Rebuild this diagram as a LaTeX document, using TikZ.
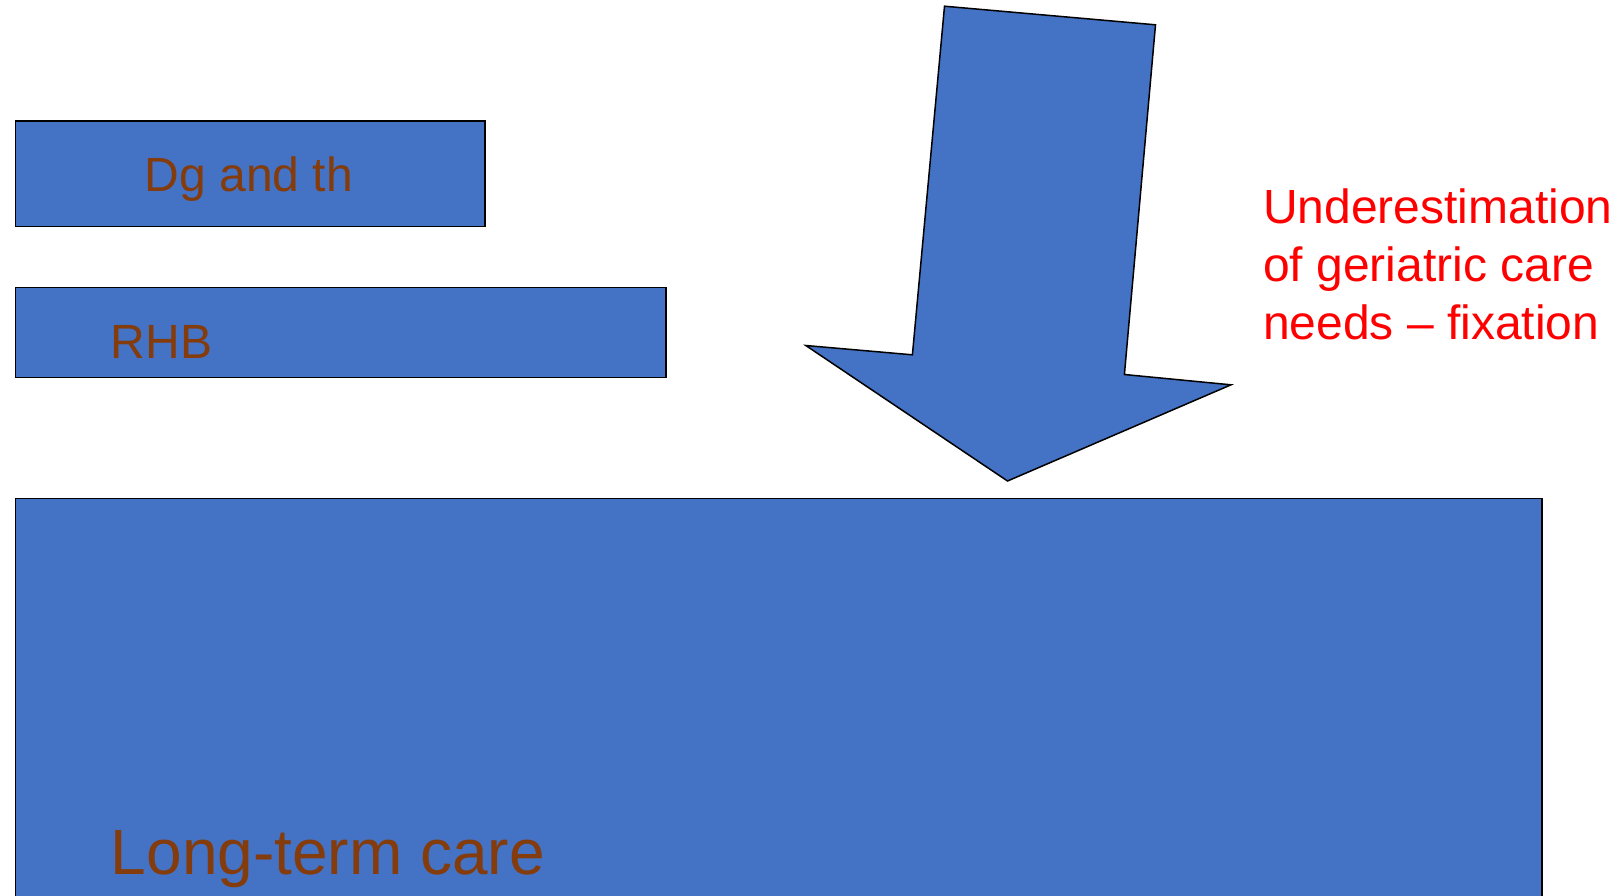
\documentclass[tikz,border=0pt]{standalone}
\usepackage{fontspec}
\setmainfont{Liberation Sans}
\usetikzlibrary{positioning}
\definecolor{boxblue}{RGB}{68,114,196}
\definecolor{labelbrown}{RGB}{132,60,12}
\definecolor{notered}{RGB}{255,0,0}

\begin{document}
\begin{tikzpicture}[x=1pt,y=-1pt,
    stage/.style={draw=black,line width=1.5pt,fill=boxblue,
      inner sep=0pt,anchor=north west},
    stagelabel/.style={text=labelbrown,inner sep=0pt,anchor=base west,
      font=\fontsize{48}{58}\selectfont},
    downarrow/.style={draw=black,line width=1.5pt,fill=boxblue,line join=miter}]
  \useasboundingbox (0,0) rectangle (1622,895);
  \clip (0,0) rectangle (1622,895);

  % care stages
  \node[stage,minimum width=469.5pt,minimum height=105.5pt] (dgth) at (14.5,120) {};
  \node[stage,minimum width=650.5pt,minimum height=90pt] (rhb) at (14.5,286.5) {};
  \node[stage,minimum width=1526.5pt,minimum height=430pt] (ltc) at (14.5,497.5) {};

  \node[stagelabel,anchor=base] (dgthtext) at (249,191) {Dg and th};
  \node[stagelabel] (rhbtext) at (110.7,358) {RHB};
  \node[stagelabel,font=\fontsize{64}{76}\selectfont] (ltctext) at (110.7,874) {Long-term care};

  % tilted arrow
  \coordinate (tl) at (944.5,6.2);
  \coordinate (tr) at (1155.5,24.8);
  \coordinate (sr) at (1124.4,374.5);
  \coordinate (br) at (1231,384.8);
  \coordinate (tip) at (1007.5,481);
  \coordinate (bl) at (805.8,345.5);
  \coordinate (sl) at (912.4,354.8);
  \draw[downarrow] (tl) -- (tr) -- (sr) -- (br) -- (tip) -- (bl) -- (sl) -- cycle;

  \node[text=notered,inner sep=0pt,anchor=north west,align=left,
    font=\fontsize{48}{58}\selectfont] (note) at (1263,188.5)
    {Underestimation\\of geriatric care\\needs -- fixation};
\end{tikzpicture}
\end{document}
